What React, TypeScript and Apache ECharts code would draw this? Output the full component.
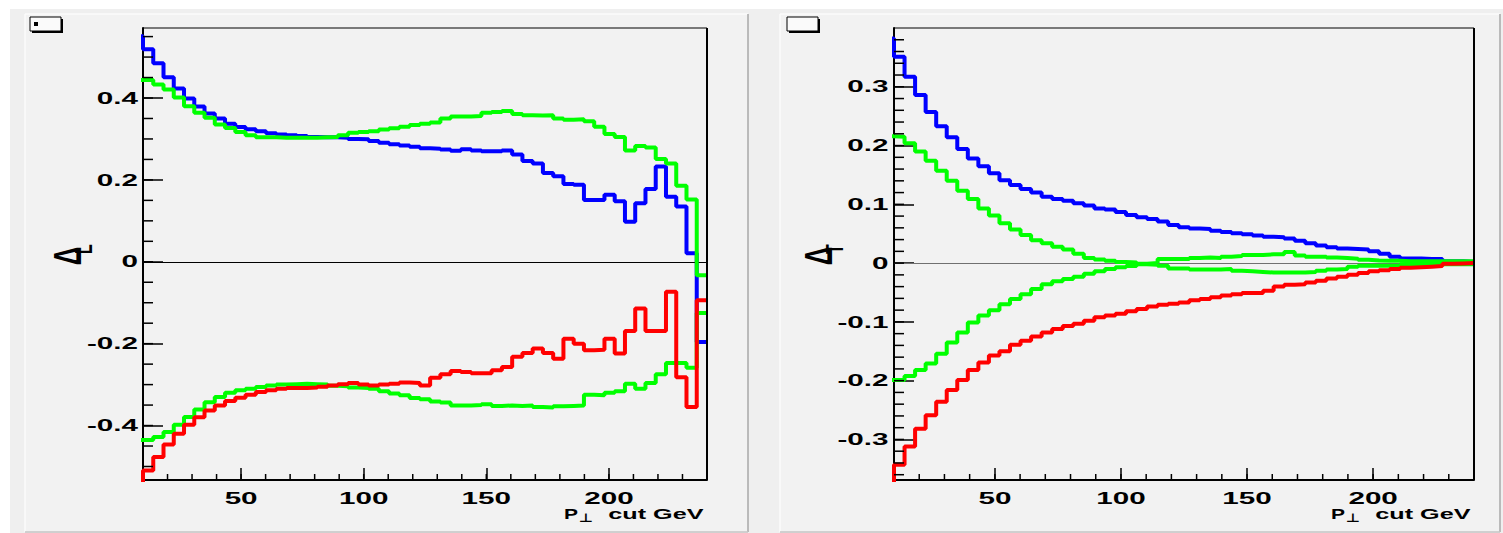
import React, { useEffect, useRef } from "react";
import * as echarts from "echarts";

// ---------- data ----------
const X_MIN = 10;
const X_MAX = 240;
const N_BINS = 55; // bins between X_MIN and X_MAX; index 0 of each array is the bin just below X_MIN
const BIN_WIDTH = (X_MAX - X_MIN) / N_BINS;

const X_MAJOR = [50, 100, 150, 200];
const X_MINOR = [20, 30, 40, 50, 60, 70, 80, 90, 100, 110, 120, 130, 140, 150, 160, 170, 180, 190, 200, 210, 220, 230];
const X_LABELS = ["50", "100", "150", "200"];

const LEFT_Y_RANGE = [-0.533, 0.571];
const LEFT_Y_MAJOR = [-0.4, -0.2, 0, 0.2, 0.4];
const LEFT_Y_LABELS = ["-0.4", "-0.2", "0", "0.2", "0.4"];
const LEFT_Y_MINOR = [-0.5, -0.45, -0.4, -0.35, -0.3, -0.25, -0.2, -0.15, -0.1, -0.05, 0, 0.05, 0.1, 0.15, 0.2, 0.25, 0.3, 0.35, 0.4, 0.45, 0.5, 0.55];

const RIGHT_Y_RANGE = [-0.369, 0.4];
const RIGHT_Y_MAJOR = [-0.3, -0.2, -0.1, 0, 0.1, 0.2, 0.3];
const RIGHT_Y_LABELS = ["-0.3", "-0.2", "-0.1", "0", "0.1", "0.2", "0.3"];
const RIGHT_Y_MINOR = [-0.36, -0.34, -0.32, -0.3, -0.28, -0.26, -0.24, -0.22, -0.2, -0.18, -0.16, -0.14, -0.12, -0.1, -0.08, -0.06, -0.04, -0.02, 0, 0.02, 0.04, 0.06, 0.08, 0.1, 0.12, 0.14, 0.16, 0.18, 0.2, 0.22, 0.24, 0.26, 0.28, 0.3, 0.32, 0.34, 0.36, 0.38];

// Delta_L panel
const L_BLUE = [
  0.551,
  0.519, 0.485, 0.451, 0.423, 0.399, 0.379, 0.362, 0.350, 0.337, 0.329,
  0.324, 0.319, 0.314, 0.311, 0.309, 0.307, 0.305, 0.304, 0.304, 0.303,
  0.300, 0.299, 0.295, 0.291, 0.287, 0.284, 0.281, 0.277, 0.276, 0.274,
  0.271, 0.275, 0.272, 0.270, 0.270, 0.272, 0.262, 0.246, 0.240, 0.217,
  0.209, 0.190, 0.188, 0.151, 0.151, 0.164, 0.148, 0.098, 0.143, 0.178,
  0.233, 0.159, 0.135, 0.021, -0.196,
];
const L_GREEN_UP = [
  0.444,
  0.444, 0.433, 0.421, 0.401, 0.380, 0.364, 0.352, 0.335, 0.327, 0.317,
  0.309, 0.304, 0.304, 0.303, 0.303, 0.303, 0.303, 0.304, 0.305, 0.309,
  0.315, 0.317, 0.319, 0.323, 0.326, 0.330, 0.334, 0.337, 0.340, 0.350,
  0.355, 0.355, 0.356, 0.364, 0.366, 0.368, 0.361, 0.358, 0.357, 0.358,
  0.350, 0.347, 0.348, 0.343, 0.330, 0.312, 0.305, 0.272, 0.283, 0.279,
  0.251, 0.240, 0.186, 0.152, -0.033,
];
const L_GREEN_DOWN = [
  -0.435,
  -0.435, -0.428, -0.416, -0.398, -0.379, -0.361, -0.343, -0.330, -0.320, -0.314,
  -0.310, -0.306, -0.302, -0.300, -0.299, -0.298, -0.299, -0.300, -0.303, -0.304,
  -0.307, -0.308, -0.310, -0.316, -0.322, -0.326, -0.333, -0.336, -0.341, -0.344,
  -0.351, -0.351, -0.350, -0.348, -0.352, -0.351, -0.352, -0.351, -0.355, -0.356,
  -0.353, -0.352, -0.351, -0.325, -0.326, -0.320, -0.316, -0.298, -0.310, -0.296,
  -0.275, -0.247, -0.247, -0.259, -0.125,
];
const L_RED = [
  -0.6,
  -0.510, -0.477, -0.446, -0.420, -0.398, -0.380, -0.363, -0.351, -0.340, -0.332,
  -0.325, -0.318, -0.314, -0.310, -0.308, -0.308, -0.307, -0.305, -0.302, -0.299,
  -0.296, -0.300, -0.302, -0.300, -0.298, -0.295, -0.296, -0.302, -0.283, -0.275,
  -0.267, -0.269, -0.272, -0.272, -0.265, -0.257, -0.232, -0.223, -0.212, -0.223,
  -0.237, -0.188, -0.200, -0.216, -0.215, -0.188, -0.224, -0.169, -0.114, -0.169,
  -0.169, -0.073, -0.282, -0.355, -0.094,
];

// Delta_T panel
const T_BLUE = [
  0.382,
  0.351, 0.317, 0.286, 0.257, 0.233, 0.214, 0.194, 0.178, 0.165, 0.153,
  0.141, 0.133, 0.126, 0.120, 0.113, 0.109, 0.106, 0.102, 0.098, 0.093,
  0.091, 0.087, 0.082, 0.078, 0.075, 0.071, 0.065, 0.061, 0.059, 0.058,
  0.055, 0.053, 0.051, 0.049, 0.047, 0.045, 0.044, 0.042, 0.038, 0.034,
  0.030, 0.027, 0.025, 0.024, 0.023, 0.020, 0.016, 0.011, 0.008, 0.008,
  0.007, 0.007, 0.003, 0.003, 0.002,
];
const T_GREEN_UP = [
  0.216,
  0.215, 0.204, 0.190, 0.174, 0.157, 0.140, 0.123, 0.109, 0.093, 0.081,
  0.068, 0.057, 0.048, 0.039, 0.034, 0.028, 0.023, 0.016, 0.0085, 0.006,
  0.004, 0.002, 0.001, -0.002, -0.003, -0.0045, -0.009, -0.009, -0.011, -0.011,
  -0.011, -0.010, -0.013, -0.014, -0.015, -0.016, -0.016, -0.016, -0.016, -0.015,
  -0.013, -0.011, -0.010, -0.006, -0.0045, -0.0045, -0.0045, -0.0045, -0.002, -0.002,
  -0.002, -0.002, -0.002, -0.002, -0.002,
];
const T_GREEN_DOWN = [
  -0.199,
  -0.199, -0.192, -0.182, -0.171, -0.154, -0.135, -0.118, -0.101, -0.089, -0.080,
  -0.070, -0.061, -0.053, -0.044, -0.036, -0.031, -0.027, -0.023, -0.018, -0.014,
  -0.010, -0.007, -0.005, -0.001, 0.000, 0.007, 0.007, 0.007, 0.0085, 0.0096,
  0.0085, 0.011, 0.012, 0.014, 0.014, 0.015, 0.015, 0.019, 0.013, 0.011,
  0.011, 0.0096, 0.0085, 0.0074, 0.0057, 0.0045, 0.004, 0.004, 0.003, 0.003,
  0.003, 0.003, 0.003, 0.003, 0.003,
];
const T_RED = [
  -0.4,
  -0.343, -0.312, -0.282, -0.259, -0.236, -0.216, -0.199, -0.182, -0.169, -0.157,
  -0.150, -0.139, -0.132, -0.125, -0.118, -0.112, -0.107, -0.103, -0.098, -0.092,
  -0.089, -0.086, -0.082, -0.078, -0.074, -0.071, -0.069, -0.067, -0.063, -0.061,
  -0.058, -0.055, -0.053, -0.051, -0.051, -0.047, -0.040, -0.037, -0.036, -0.033,
  -0.030, -0.026, -0.023, -0.020, -0.017, -0.014, -0.012, -0.010, -0.008, -0.007,
  -0.006, -0.005, -0.001, -0.0005, 0.0,
];

// ---------- styling ----------
const FONT = '"Liberation Sans", Arial, Helvetica, sans-serif';
const BLUE = "#0000ff";
const GREEN = "#00ff00";
const RED = "#ff0000";
const PAD_BG = "#f2f2f2";
const LINE_W = 4;
const STRETCH = 1.85;

const PANELS = [
  {
    grid: { left: 143, top: 28, width: 564, height: 452 },
    yRange: LEFT_Y_RANGE,
    yMajor: LEFT_Y_MAJOR,
    yLabels: LEFT_Y_LABELS,
    yMinor: LEFT_Y_MINOR,
    series: [
      { data: L_BLUE, color: BLUE },
      { data: L_GREEN_DOWN, color: GREEN },
      { data: L_GREEN_UP, color: GREEN },
      { data: L_RED, color: RED },
    ],
    zeroColor: "#000000",
    sub: "L",
    pad: { x: 25, y: 14, w: 723, h: 518 },
    box: { x: 30, y: 17 },
    labelGap: 5,
  },
  {
    grid: { left: 894, top: 28, width: 580, height: 452 },
    yRange: RIGHT_Y_RANGE,
    yMajor: RIGHT_Y_MAJOR,
    yLabels: RIGHT_Y_LABELS,
    yMinor: RIGHT_Y_MINOR,
    series: [
      { data: T_BLUE, color: BLUE },
      { data: T_GREEN_DOWN, color: GREEN },
      { data: T_GREEN_UP, color: GREEN },
      { data: T_RED, color: RED },
    ],
    zeroColor: "#707070",
    sub: "T",
    pad: { x: 780, y: 14, w: 720, h: 518 },
    box: { x: 787, y: 17 },
    labelGap: 5.5,
  },
];

function histPoints(values: number[]) {
  const pts = values.map((v, i) => [X_MIN + (i - 1) * BIN_WIDTH, v]);
  pts.push([X_MAX, values[values.length - 1]]);
  return pts;
}

function buildOption() {
  const grids: any[] = [];
  const xAxes: any[] = [];
  const yAxes: any[] = [];
  const series: any[] = [];
  PANELS.forEach((p, pi) => {
    grids.push({ ...p.grid, show: true, borderColor: "#000", borderWidth: 1, backgroundColor: "transparent", containLabel: false });

    const xBase = {
      type: "value",
      gridIndex: pi,
      position: "bottom",
      min: X_MIN,
      max: X_MAX,
      axisLabel: { show: false },
      splitLine: { show: false },
      minorTick: { show: false },
    };
    xAxes.push({
      ...xBase,
      axisLine: { show: true, onZero: false, lineStyle: { color: "#000", width: 2 } },
      axisTick: { show: true, inside: true, length: 12, customValues: X_MAJOR, lineStyle: { color: "#000", width: 1.5 } },
    });

    yAxes.push({
      type: "value",
      gridIndex: pi,
      position: "left",
      min: p.yRange[0],
      max: p.yRange[1],
      axisLabel: { show: false },
      splitLine: { show: false },
      minorTick: { show: false },
      axisLine: { show: true, onZero: false, lineStyle: { color: "#000", width: 2 } },
      axisTick: { show: true, inside: true, length: 20, customValues: p.yMajor, lineStyle: { color: "#000", width: 1.5 } },
    });

    p.series.forEach((s, si) => {
      series.push({
        type: "line",
        xAxisIndex: pi,
        yAxisIndex: pi,
        step: "end",
        symbol: "none",
        showSymbol: false,
        clip: true,
        silent: true,
        z: 3 + si,
        lineStyle: { color: s.color, width: LINE_W },
        data: histPoints(s.data),
        markLine:
          si === 0
            ? {
                silent: true,
                symbol: ["none", "none"],
                label: { show: false },
                lineStyle: { color: p.zeroColor, width: 1.2, type: "solid" },
                data: [{ yAxis: 0 }],
              }
            : undefined,
      });
    });
  });
  return {
    animation: false,
    backgroundColor: "#ffffff",
    grid: grids,
    xAxis: xAxes,
    yAxis: yAxes,
    series,
  };
}

function textEl(text: string, x: number, y: number, align: string, extra: any = {}) {
  return {
    type: "text",
    x,
    y,
    scaleX: STRETCH,
    z: 20,
    silent: true,
    style: {
      text,
      fill: "#000",
      fontFamily: FONT,
      fontWeight: "bold",
      fontSize: 16,
      align,
      verticalAlign: "middle",
    },
    ...extra,
  };
}

function buildGraphics(chart: any) {
  const els: any[] = [];
  // canvas background
  els.push({ type: "rect", z: -20, silent: true, shape: { x: 10, y: 9, width: 1493, height: 524 }, style: { fill: "#efefef" } });
  PANELS.forEach((p, pi) => {
    const pad = p.pad;
    els.push({ type: "rect", z: -19, silent: true, shape: { x: pad.x, y: pad.y, width: pad.w, height: pad.h }, style: { fill: PAD_BG } });
    els.push({ type: "line", z: -18, silent: true, shape: { x1: pad.x, y1: pad.y, x2: pad.x + pad.w, y2: pad.y }, style: { stroke: "#fbfbfb", lineWidth: 1.5 } });
    els.push({ type: "line", z: -18, silent: true, shape: { x1: pad.x, y1: pad.y, x2: pad.x, y2: pad.y + pad.h }, style: { stroke: "#fbfbfb", lineWidth: 1.5 } });
    els.push({ type: "line", z: -18, silent: true, shape: { x1: pad.x + pad.w, y1: pad.y, x2: pad.x + pad.w, y2: pad.y + pad.h }, style: { stroke: "#a8a8a8", lineWidth: 1.5 } });
    els.push({ type: "line", z: -18, silent: true, shape: { x1: pad.x, y1: pad.y + pad.h, x2: pad.x + pad.w, y2: pad.y + pad.h }, style: { stroke: "#c4c4c4", lineWidth: 1.5 } });

    // small title box with shadow
    const b = p.box;
    els.push({ type: "rect", z: 5, silent: true, shape: { x: b.x + 2, y: b.y + 2, width: 31, height: 14 }, style: { fill: "#000" } });
    els.push({ type: "rect", z: 6, silent: true, shape: { x: b.x, y: b.y, width: 31, height: 14 }, style: { fill: "#fafafa", stroke: "#000", lineWidth: 1 } });
    if (pi === 0) {
      els.push({ type: "rect", z: 7, silent: true, shape: { x: b.x + 4, y: b.y + 5, width: 4, height: 4 }, style: { fill: "#000" } });
    }

    const conv = (x: number, y: number) => chart.convertToPixel({ xAxisIndex: pi, yAxisIndex: pi }, [x, y]);

    // right frame edge (thicker, as in the original)
    const [rx0, ty0] = conv(X_MAX, p.yRange[1]);
    const [lx0, by0] = conv(X_MIN, p.yRange[0]);
    els.push({ type: "line", z: 15, silent: true, shape: { x1: rx0, y1: ty0, x2: rx0, y2: by0 }, style: { stroke: "#000", lineWidth: 2 } });

    // minor ticks (positions from the axis scales)
    p.yMinor.forEach((v) => {
      const [, py] = conv(X_MIN, v);
      els.push({ type: "line", z: 15, silent: true, shape: { x1: lx0, y1: py, x2: lx0 + 10, y2: py }, style: { stroke: "#000", lineWidth: 1.5 } });
    });
    X_MINOR.forEach((v) => {
      const [px] = conv(v, p.yRange[0]);
      els.push({ type: "line", z: 15, silent: true, shape: { x1: px, y1: by0, x2: px, y2: by0 - 6 }, style: { stroke: "#000", lineWidth: 1.5 } });
    });

    // y tick labels
    p.yMajor.forEach((v, i) => {
      const [px, py] = conv(X_MIN, v);
      els.push(textEl(p.yLabels[i], px - p.labelGap, py, "right"));
    });
    // x tick labels
    X_MAJOR.forEach((v, i) => {
      const [px, py] = conv(v, p.yRange[0]);
      els.push(textEl(X_LABELS[i], px, py + 18, "center"));
    });
    // x axis title: P⊥ cut GeV
    const [rx, by] = conv(X_MAX, p.yRange[0]);
    els.push({
      type: "text", x: rx - 3.5, y: by + 33.5, scaleX: 1.68, z: 20, silent: true,
      style: { text: "cut GeV", fill: "#000", fontFamily: FONT, fontWeight: "bold", fontSize: 15, align: "right", verticalAlign: "middle" },
    });
    els.push({
      type: "text", x: rx - 143, y: by + 33.5, scaleX: 1.4, z: 20, silent: true,
      style: { text: "P", fill: "#000", fontFamily: FONT, fontWeight: "bold", fontSize: 15, align: "left", verticalAlign: "middle" },
    });
    els.push({
      type: "text", x: rx - 121, y: by + 38, scaleX: 1.3, z: 20, silent: true,
      style: { text: "⊥", fill: "#000", fontFamily: '"DejaVu Sans", sans-serif', fontWeight: "bold", fontSize: 12, align: "center", verticalAlign: "middle" },
    });
    // y axis title: Delta with subscript
    const [lx, ty] = conv(X_MIN, p.yRange[1]);
    els.push({
      type: "text", x: lx - 75.5, y: ty + 228, rotation: Math.PI / 2, scaleY: 1.5, z: 20, silent: true,
      style: { text: "Δ", fill: "#000", fontFamily: FONT, fontWeight: "bold", fontSize: 26, align: "center", verticalAlign: "middle" },
    });
    els.push({
      type: "text", x: lx - 59, y: ty + 221, rotation: Math.PI / 2, scaleY: 1.5, z: 20, silent: true,
      style: { text: p.sub, fill: "#000", fontFamily: FONT, fontWeight: "bold", fontSize: 16, align: "center", verticalAlign: "middle" },
    });
  });
  return els;
}

export default function App() {
  const ref = useRef<HTMLDivElement>(null);
  useEffect(() => {
    const el = ref.current;
    if (!el) return;
    const chart = echarts.init(el, null, { renderer: "svg" });
    chart.setOption(buildOption() as any);
    chart.setOption({ graphic: { elements: buildGraphics(chart) } } as any);
    return () => {
      chart.dispose();
    };
  }, []);
  return (
    <div
      ref={ref}
      style={{ position: "absolute", left: 0, top: 0, width: 1503, height: 533, background: "#ffffff" }}
    />
  );
}
